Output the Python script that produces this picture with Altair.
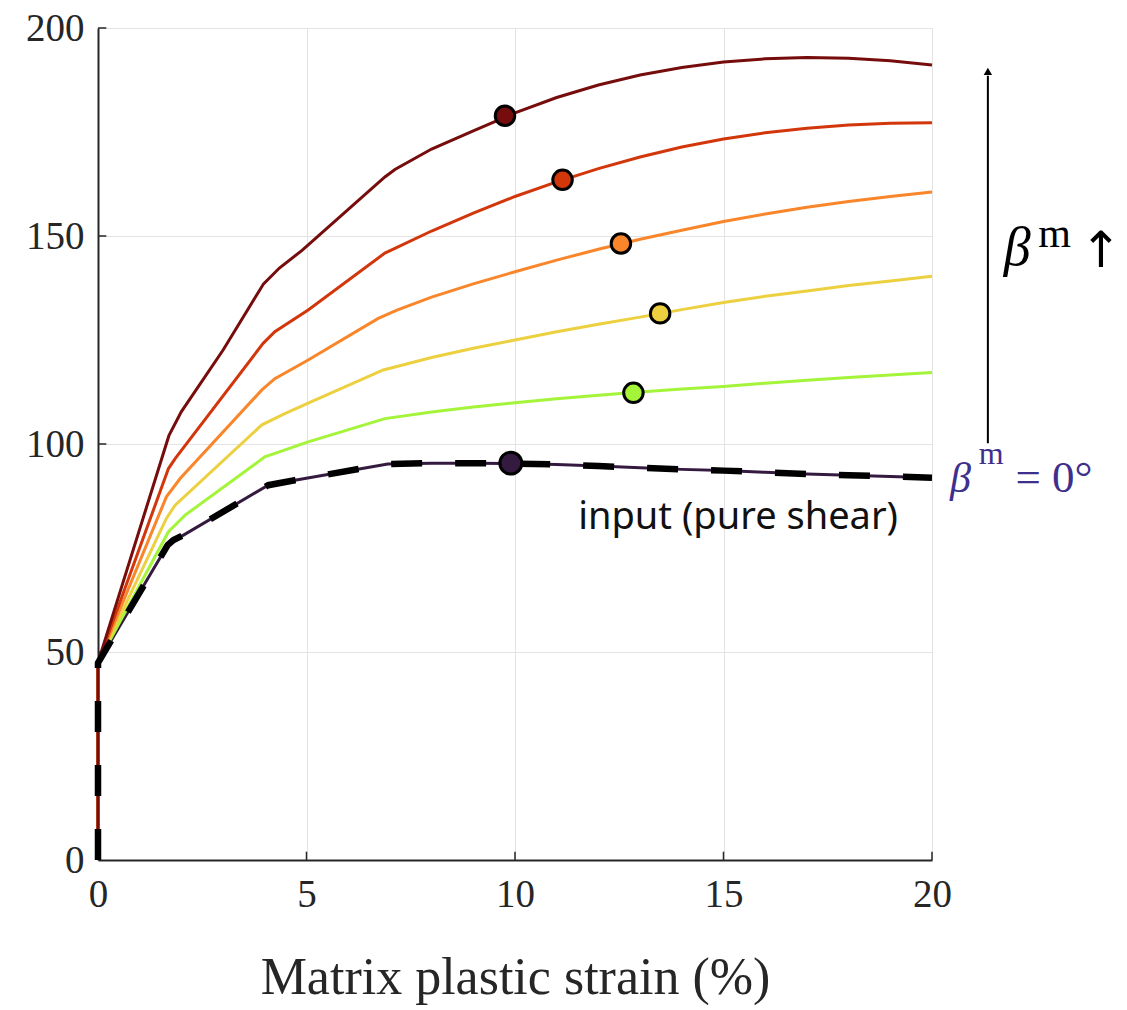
import altair as alt
import pandas as pd

# ---------------- data ----------------
series_names = ["b0", "b1", "b2", "b3", "b4", "b5"]
series_colors = ["#351a40", "#a4f43a", "#ecd040", "#f9862a", "#d2360b", "#760c0c"]

x_b0 = [0, 0, 1.67, 1.81, 2.05, 4.08, 4.72, 6.95, 8, 9, 10, 11, 12, 13, 14, 15, 16, 17, 18, 19, 20]
y_b0 = [0, 47.4, 75.7, 76.9, 78.1, 90.1, 91.3, 95.2, 95.4, 95.4, 95.3, 95.1, 94.7, 94.3, 93.9, 93.6, 93.2, 92.8, 92.5, 92.2, 91.9]

x_b1 = [0, 0, 1.69, 2.09, 4.0, 5.04, 6.88, 8, 9, 10, 11, 12, 13, 14, 15, 16, 17, 18, 19, 20]
y_b1 = [0, 47.5, 78.9, 82.9, 96.9, 100.5, 106.1, 107.7, 108.9, 109.9, 110.9, 111.7, 112.5, 113.2, 113.8, 114.6, 115.3, 116.0, 116.6, 117.2]

x_b2 = [0, 0, 1.64, 1.85, 3.93, 4.48, 5.04, 6.84, 7.12, 8, 9, 10, 11, 12, 13, 14, 15, 16, 17, 18, 19, 20]
y_b2 = [0, 47.5, 82.1, 85.3, 104.6, 107.3, 109.8, 117.8, 118.5, 120.8, 123.0, 125.0, 127.0, 128.8, 130.5, 132.3, 134.0, 135.5, 136.8, 138.1, 139.2, 140.3]

x_b3 = [0, 0, 1.64, 1.97, 3.93, 4.24, 5.04, 6.72, 7.17, 8, 9, 10, 11, 12, 13, 14, 15, 16, 17, 18, 19, 20]
y_b3 = [0, 47.5, 87.3, 91.7, 113.0, 115.7, 120.2, 130.2, 132.2, 135.3, 138.5, 141.4, 144.2, 146.8, 149.2, 151.4, 153.5, 155.3, 156.9, 158.3, 159.5, 160.6]

x_b4 = [0, 0, 1.69, 1.85, 3.96, 4.24, 5.04, 6.88, 7.12, 8, 9, 10, 11, 12, 13, 14, 15, 16, 17, 18, 19, 20]
y_b4 = [0, 47.5, 94.1, 96.5, 124.2, 127.0, 132.2, 145.9, 147.0, 151.2, 155.5, 159.5, 163.0, 166.2, 169.0, 171.4, 173.3, 174.8, 175.9, 176.7, 177.1, 177.2]

x_b5 = [0, 0, 1.70, 2.0, 3.0, 3.97, 4.35, 4.9, 6.88, 7.12, 8, 9, 10, 11, 12, 13, 14, 15, 16, 17, 18, 19, 20]
y_b5 = [0, 47.5, 102.0, 107.8, 122.6, 138.5, 142.3, 146.6, 164.2, 166.0, 170.9, 175.3, 179.6, 183.3, 186.3, 188.7, 190.5, 191.8, 192.6, 192.9, 192.7, 192.1, 191.1]

marker_x = [9.9, 12.84, 13.48, 12.54, 11.14, 9.76]
marker_y = [95.4, 112.3, 131.4, 148.2, 163.5, 178.9]

x_ticks = [0, 5, 10, 15, 20]
y_ticks = [0, 50, 100, 150, 200]

xs = [x_b0, x_b1, x_b2, x_b3, x_b4, x_b5]
ys = [y_b0, y_b1, y_b2, y_b3, y_b4, y_b5]

SERIF = "Liberation Serif"
AXIS_COL = "#262626"

xscale = alt.Scale(domain=[0, 20], nice=False)
yscale = alt.Scale(domain=[0, 200], nice=False)

xaxis = alt.Axis(values=x_ticks, ticks=False, grid=True, gridColor="#e3e3e3", gridWidth=1,
                 domainColor=AXIS_COL, domainWidth=2, labelFont=SERIF, labelFontSize=39,
                 labelColor=AXIS_COL, labelPadding=15, title="Matrix plastic strain (%)",
                 titleFont=SERIF, titleFontSize=52, titleFontWeight="normal",
                 titleColor=AXIS_COL, titlePadding=38, labelFlush=False)
yaxis = alt.Axis(values=y_ticks, ticks=False, grid=True, gridColor="#e3e3e3", gridWidth=1,
                 domainColor=AXIS_COL, domainWidth=2, labelFont=SERIF, labelFontSize=39,
                 labelColor=AXIS_COL, labelPadding=14, title=None, labelFlush=False)

layers = []

# base layer carrying the axes
base_df = pd.DataFrame({"x": x_ticks, "y": y_ticks})
layers.append(
    alt.Chart(base_df).mark_point(opacity=0).encode(
        x=alt.X("x:Q", scale=xscale, axis=xaxis),
        y=alt.Y("y:Q", scale=yscale, axis=yaxis),
    )
)

# inward tick marks
xt_df = pd.DataFrame({"x": x_ticks[1:]})
layers.append(
    alt.Chart(xt_df).mark_rule(color=AXIS_COL, strokeWidth=1.5).encode(
        x=alt.X("x:Q", scale=xscale), y=alt.datum(0), y2=alt.datum(2)
    )
)
yt_df = pd.DataFrame({"y": y_ticks[1:]})
layers.append(
    alt.Chart(yt_df).mark_rule(color=AXIS_COL, strokeWidth=1.5).encode(
        y=alt.Y("y:Q", scale=yscale), x=alt.datum(0), x2=alt.datum(0.2)
    )
)

# curves
for name, col, xv, yv in zip(series_names, series_colors, xs, ys):
    df = pd.DataFrame({"x": xv, "y": yv, "i": list(range(len(xv)))})
    layers.append(
        alt.Chart(df).mark_line(color=col, strokeWidth=3).encode(
            x=alt.X("x:Q", scale=xscale), y=alt.Y("y:Q", scale=yscale), order="i:Q"
        )
    )

# dashed input curve
in_df = pd.DataFrame({"x": x_b0, "y": y_b0, "i": list(range(len(x_b0)))})
layers.append(
    alt.Chart(in_df).mark_line(color="black", strokeWidth=6.5, strokeDash=[31, 33]).encode(
        x=alt.X("x:Q", scale=xscale), y=alt.Y("y:Q", scale=yscale), order="i:Q"
    )
)

# markers
mk_df = pd.DataFrame({"x": marker_x, "y": marker_y, "s": series_names,
                      "size": [480, 380, 380, 380, 380, 380]})
layers.append(
    alt.Chart(mk_df).mark_circle(opacity=1, stroke="black", strokeWidth=3).encode(
        x=alt.X("x:Q", scale=xscale), y=alt.Y("y:Q", scale=yscale),
        color=alt.Color("s:N", scale=alt.Scale(domain=series_names, range=series_colors), legend=None),
        size=alt.Size("size:Q", scale=None, legend=None),
    )
)

# annotations
layers.append(
    alt.Chart(pd.DataFrame({"t": ["input (pure shear)"]})).mark_text(
        font="Noto Sans", fontSize=38, color="#111111", align="center", baseline="middle"
    ).encode(x=alt.datum(15.35), y=alt.datum(82.3), text="t:N")
)

PURPLE = "#3f2f8c"
layers.append(
    alt.Chart(pd.DataFrame({"t": ["β"]})).mark_text(
        font=SERIF, fontStyle="italic", fontSize=42, color=PURPLE, align="left", baseline="alphabetic"
    ).encode(x=alt.datum(20.43), y=alt.datum(88.5), text="t:N")
)
layers.append(
    alt.Chart(pd.DataFrame({"t": ["m"]})).mark_text(
        font=SERIF, fontSize=32, color=PURPLE, align="left", baseline="alphabetic"
    ).encode(x=alt.datum(21.12), y=alt.datum(95.2), text="t:N")
)
layers.append(
    alt.Chart(pd.DataFrame({"t": ["= 0°"]})).mark_text(
        font=SERIF, fontSize=45, color=PURPLE, align="left", baseline="alphabetic"
    ).encode(x=alt.datum(22.0), y=alt.datum(88.5), text="t:N")
)

layers.append(
    alt.Chart(pd.DataFrame({"t": ["β"]})).mark_text(
        font=SERIF, fontStyle="italic", fontSize=54, color="black", align="left", baseline="alphabetic"
    ).encode(x=alt.datum(21.72), y=alt.datum(143.0), text="t:N")
)
layers.append(
    alt.Chart(pd.DataFrame({"t": ["m"]})).mark_text(
        font=SERIF, fontSize=42, color="black", align="left", baseline="alphabetic"
    ).encode(x=alt.datum(22.55), y=alt.datum(147.3), text="t:N")
)
layers.append(
    alt.Chart(pd.DataFrame({"t": ["↑"]})).mark_text(
        font="DejaVu Sans", fontSize=50, color="black", align="left", baseline="alphabetic"
    ).encode(x=alt.datum(23.55), y=alt.datum(142.5), text="t:N")
)

# vertical arrow
layers.append(
    alt.Chart(pd.DataFrame({"a": [0]})).mark_rule(color="black", strokeWidth=2).encode(
        x=alt.datum(21.34), y=alt.datum(100.2), y2=alt.datum(188.5)
    )
)
layers.append(
    alt.Chart(pd.DataFrame({"a": [0]})).mark_point(
        shape="triangle-up", filled=True, color="black", size=70, opacity=1
    ).encode(x=alt.datum(21.34), y=alt.datum(189.6))
)

chart = alt.layer(*layers).properties(
    width=834, height=832,
    autosize=alt.AutoSizeParams(type="none"),
    padding={"left": 98, "top": 28, "right": 195, "bottom": 150},
    background="white",
).configure_view(strokeWidth=0)

chart.save("out.html", embed_options={"renderer": "svg", "actions": False})
